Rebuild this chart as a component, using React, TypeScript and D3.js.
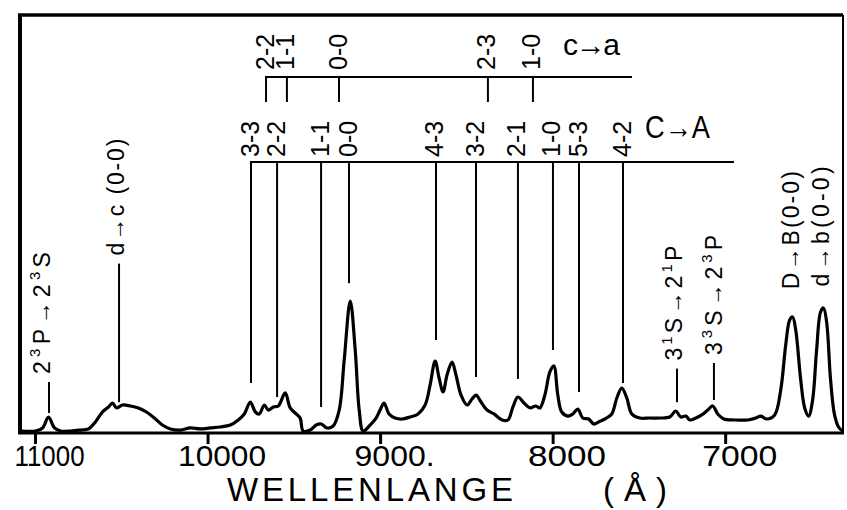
import React from 'react';
import * as d3 from 'd3';

const W = 847;
const H = 510;

// ---- spectrum (wavelength in Å, relative intensity) ----
const spectrumWavelength = [
  11081, 11000, 10959, 10925, 10890, 10855, 10797, 10740, 10693, 10653,
  10612, 10577, 10554, 10531, 10496, 10450, 10404, 10357, 10311, 10265,
  10218, 10161, 10103, 10045, 9987, 9929, 9871, 9825, 9790, 9755,
  9726, 9703, 9674, 9651, 9622, 9593, 9553, 9524, 9489, 9466,
  9449, 9408, 9373, 9344, 9310, 9275, 9240, 9211, 9176, 9147,
  9124, 9101, 9061, 9026, 9003, 8980, 8951, 8916, 8875, 8829,
  8783, 8742, 8713, 8684, 8661, 8638, 8615, 8586, 8563, 8534,
  8499, 8470, 8447, 8418, 8383, 8343, 8296, 8262, 8233, 8204,
  8169, 8134, 8100, 8077, 8048, 8019, 7996, 7973, 7950, 7915,
  7886, 7857, 7828, 7794, 7765, 7736, 7700, 7660, 7631, 7602,
  7573, 7544, 7498, 7440, 7382, 7324, 7289, 7260, 7231, 7208,
  7173, 7139, 7104, 7075, 7046, 7011, 6948, 6872, 6826, 6797,
  6762, 6716, 6681, 6652, 6629, 6612, 6594, 6565, 6542, 6519,
  6496, 6473, 6450, 6433, 6415, 6392, 6369, 6346, 6322,
];
const spectrumIntensity = [
  1.4, 1.4, 3.6, 11.4, 3.6, 1.4, 1.4, 2.1, 2.9, 7.9,
  15, 18.6, 21.4, 17.9, 20, 19.3, 17.9, 15, 10.7, 5.7,
  2.9, 2.1, 3.6, 2.9, 3.6, 4.3, 5.7, 9.3, 13.6, 22.1,
  15, 13.6, 20, 16.4, 18.6, 19.3, 28.6, 17.9, 13.6, 10.7,
  1.4, 2.1, 5.7, 6.4, 3.6, 5, 16.4, 52, 94.3, 59,
  16.4, 1.4, 5.7, 10.7, 16.4, 21.4, 13.6, 10.7, 10, 11.4,
  13.6, 20, 34.3, 51.4, 39.3, 29.3, 41.4, 50.7, 41.4, 27.1,
  20, 24.3, 27.1, 22.1, 16.4, 13.6, 9.3, 9.3, 18.6, 25.7,
  21.4, 17.9, 19.3, 17.9, 27.1, 43.6, 47.9, 27.1, 15, 12.1,
  13.6, 17.1, 10.7, 10, 6.4, 7.9, 10, 13.6, 25, 32.1,
  25, 13.6, 10.7, 10.7, 10.7, 11.4, 15.7, 11.4, 12.1, 9.3,
  10.7, 12.9, 16.4, 19.3, 13.6, 10, 9.3, 9.3, 10.7, 12.1,
  10, 12.9, 30.7, 62.9, 80.7, 82.9, 73.6, 37.9, 17.9, 12.1,
  23.6, 59.3, 86.4, 89.3, 79.3, 37.9, 12.9, 4.3, 1.4,
];

// ---- axis ----
const tickValues = [11000, 10000, 9000, 8000, 7000];
const tickLabels = ['11000', '10000', '9000.', '8000', '7000'];
const axisTitle = 'WELLENLANGE';
const axisUnit = '( Å )';

// ---- C→A band system ----
const bandCALabel = 'C→A';
const bandCALabels = ['3-3', '2-2', '1-1', '0-0', '4-3', '3-2', '2-1', '1-0', '5-3', '4-2'];
const bandCAWavelengths = [9751, 9600, 9345, 9183, 8679, 8447, 8204, 8001, 7850, 7595];
const bandCALineEnds = [35.7, 25.7, 18.6, 107, 66.4, 40, 38.6, 59.3, 29.3, 35.7];
const bandCARange = [9757, 6952];

// ---- c→a band system ----
const bandcaLabel = 'c→a';
const bandcaLabels = ['2-2', '1-1', '0-0', '2-3', '1-0'];
const bandcaWavelengths = [9664, 9543, 9241, 8378, 8117];
const bandcaRange = [9670, 7543];

// ---- single line identifications ----
const lineLabels = ['2^3P→2^3S', 'd→c (0-0)', '3^1S→2^1P', '3^3S→2^3P', 'D→B(0-0)', 'd→b(0-0)'];
const lineWavelengths = [10922, 10516, 7282, 7068, 6612, 6433];
const lineFrom: (number | null)[] = [14.3, 22, 22, 23.6, null, null];
const lineTo = [36.4, 121, 46, 50, 97, 99];

// ---- layout ----
const frame = { left: 20, right: 843, top: 15, bottom: 433 };
const FONT = 'Liberation Sans, Arial, Helvetica, sans-serif';
const labelLengths = [122, 117, 115, 120, 118, 120];
const labelOffsets = [1, 5, 5, 8, 6, 5];
const tickLabelLengths = [70, 88, 80, 78, 75];

function parseSup(s: string) {
  const parts: { t: string; sup: boolean }[] = [];
  for (let i = 0; i < s.length; i++) {
    if (s[i] === '^') {
      parts.push({ t: s[i + 1], sup: true });
      i++;
    } else {
      const last = parts[parts.length - 1];
      if (last && !last.sup) last.t += s[i];
      else parts.push({ t: s[i], sup: false });
    }
  }
  return parts;
}

function RotLabel({ x, y, text, fs, len }: { x: number; y: number; text: string; fs: number; len?: number }) {
  const parts = parseSup(text);
  const shift = fs * 0.42;
  let prevSup = false;
  return (
    <text
      transform={`translate(${x},${y}) rotate(-90)`}
      fontSize={fs}
      fontFamily={FONT}
      fill="#000"
      textLength={len}
      lengthAdjust={len ? 'spacing' : undefined}
    >
      {parts.map((p, i) => {
        const dy = p.sup ? -shift : prevSup ? shift : 0;
        prevSup = p.sup;
        return (
          <tspan key={i} dy={dy} fontSize={p.sup ? fs * 0.65 : fs}>
            {p.t}
          </tspan>
        );
      })}
    </text>
  );
}

export default function App() {
  const x = d3.scaleLinear().domain([11090, 6320]).range([frame.left, frame.right]);
  const y = d3.scaleLinear().domain([0, 100]).range([frame.bottom, frame.bottom - 140]);

  const pts = spectrumWavelength.map((w, i) => [w, spectrumIntensity[i]] as [number, number]);
  const line = d3
    .line<[number, number]>()
    .x((d) => x(d[0]))
    .y((d) => y(d[1]))
    .curve(d3.curveCatmullRom.alpha(0.5));

  const caBarY = 162;
  const caLabelBottom = 157;
  const smallBarY = 77;
  const smallLineEnd = 102;
  const smallLabelBottom = 70;

  return (
    <svg width={W} height={H} style={{ position: 'absolute', left: 0, top: 0, background: '#fff' }}>
      <rect x={0} y={0} width={W} height={H} fill="#fff" />
      {/* frame */}
      <line x1={frame.left - 2} x2={frame.right} y1={frame.top} y2={frame.top} stroke="#000" strokeWidth={3.5} />
      <line x1={frame.left} x2={frame.left} y1={frame.top} y2={frame.bottom} stroke="#000" strokeWidth={4} />
      <line x1={frame.right} x2={frame.right} y1={frame.top} y2={frame.bottom} stroke="#000" strokeWidth={2} />
      <line x1={frame.left - 2} x2={frame.right + 1} y1={frame.bottom} y2={frame.bottom} stroke="#000" strokeWidth={3} />

      {/* ticks */}
      {tickValues.map((t, i) => (
        <g key={t}>
          <line x1={x(t)} x2={x(t)} y1={frame.bottom} y2={frame.bottom + 11} stroke="#000" strokeWidth={3} />
          <text
            x={x(t) + 14}
            y={466}
            textAnchor="middle"
            fontSize={30}
            fontFamily={FONT}
            textLength={tickLabelLengths[i]}
            lengthAdjust="spacingAndGlyphs"
          >
            {tickLabels[i]}
          </text>
        </g>
      ))}
      <text x={227} y={501} fontSize={33} fontFamily={FONT} textLength={286} lengthAdjust="spacing">
        {axisTitle}
      </text>
      <text x={603} y={501} fontSize={33} fontFamily={FONT} textLength={64} lengthAdjust="spacing">
        {axisUnit}
      </text>

      {/* spectrum */}
      <path d={line(pts) || ''} fill="none" stroke="#000" strokeWidth={3.2} strokeLinejoin="round" />

      {/* C→A system */}
      <line x1={x(bandCARange[0])} x2={x(bandCARange[1])} y1={caBarY} y2={caBarY} stroke="#000" strokeWidth={2} />
      {bandCAWavelengths.map((w, i) => (
        <g key={'CA' + i}>
          <line x1={x(w)} x2={x(w)} y1={caBarY} y2={y(bandCALineEnds[i])} stroke="#000" strokeWidth={2} />
          <RotLabel x={x(w) + 7.5} y={caLabelBottom} text={bandCALabels[i]} fs={25} />
        </g>
      ))}
      <text x={645} y={138} fontSize={32} fontFamily={FONT} textLength={65} lengthAdjust="spacingAndGlyphs">
        {bandCALabel}
      </text>

      {/* c→a system */}
      <line x1={x(bandcaRange[0])} x2={x(bandcaRange[1])} y1={smallBarY} y2={smallBarY} stroke="#000" strokeWidth={2} />
      {bandcaWavelengths.map((w, i) => (
        <g key={'ca' + i}>
          <line x1={x(w)} x2={x(w)} y1={smallBarY} y2={smallLineEnd} stroke="#000" strokeWidth={2} />
          <RotLabel x={x(w) + 7.5} y={smallLabelBottom} text={bandcaLabels[i]} fs={25} />
        </g>
      ))}
      <text x={563} y={55} fontSize={30} fontFamily={FONT} textLength={57} lengthAdjust="spacing">
        {bandcaLabel}
      </text>

      {/* single line identifications */}
      {lineWavelengths.map((w, i) => {
        const from = lineFrom[i];
        return (
          <g key={'l' + i}>
            {from !== null && (
              <line x1={x(w)} x2={x(w)} y1={y(from)} y2={y(lineTo[i])} stroke="#000" strokeWidth={2} />
            )}
            <RotLabel
              x={x(w) + labelOffsets[i]}
              y={y(lineTo[i]) - 8}
              text={lineLabels[i]}
              fs={23}
              len={labelLengths[i]}
            />
          </g>
        );
      })}
    </svg>
  );
}
